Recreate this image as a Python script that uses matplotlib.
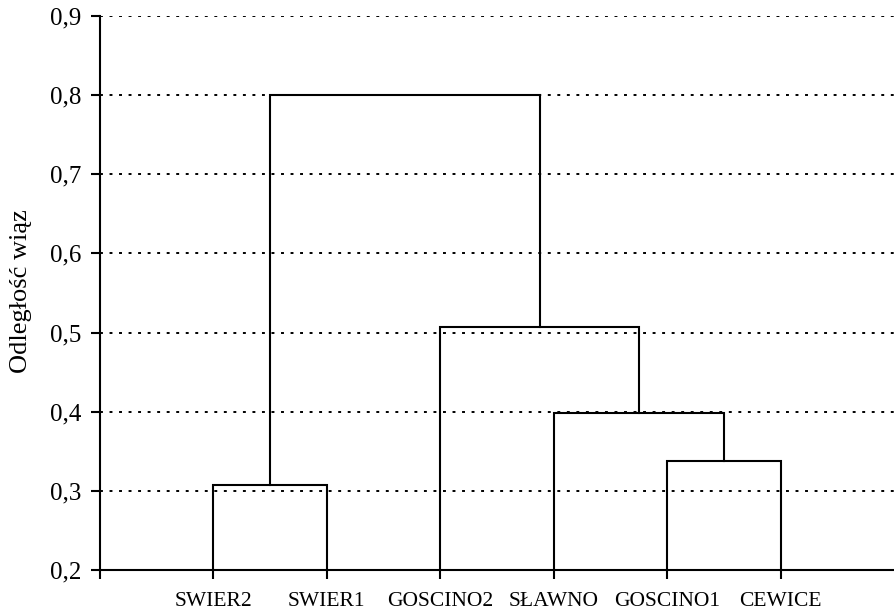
import matplotlib
matplotlib.use("Agg")
import matplotlib.pyplot as plt

plt.rcParams["font.family"] = ["Liberation Serif", "DejaVu Serif"]

# leaves in drawing order
leaves = ["SWIER2", "SWIER1", "GOSCINO2", "SŁAWNO", "GOSCINO1", "CEWICE"]
# merges: (left cluster id, right cluster id, linkage distance); new ids start at len(leaves)
merge_left = [0, 4, 3, 2, 6]
merge_right = [1, 5, 7, 8, 9]
merge_height = [0.307, 0.338, 0.398, 0.507, 0.800]

y_ticks = [0.2, 0.3, 0.4, 0.5, 0.6, 0.7, 0.8, 0.9]
y_tick_labels = ["0,2", "0,3", "0,4", "0,5", "0,6", "0,7", "0,8", "0,9"]
y_label = "Odległość wiąz"

fig = plt.figure(figsize=(8.94, 6.10), dpi=100)
ax = fig.add_axes([100 / 894, 40 / 610, 794 / 894, 554 / 610])

base = y_ticks[0]
xpos = {i: i + 1 for i in range(len(leaves))}
ypos = {i: base for i in range(len(leaves))}

for k, (a, b, h) in enumerate(zip(merge_left, merge_right, merge_height)):
    xa, xb = xpos[a], xpos[b]
    ax.plot([xa, xa, xb, xb], [ypos[a], h, h, ypos[b]], color="black",
            linewidth=1.5, solid_joinstyle="miter", zorder=3)
    new_id = len(leaves) + k
    xpos[new_id] = (xa + xb) / 2
    ypos[new_id] = h

for y in y_ticks[1:]:
    ax.axhline(y, color="black", linewidth=1.4, linestyle=(0, (1.5, 3.4)), zorder=1)

ax.set_xlim(0, len(leaves) + 1)
ax.set_ylim(y_ticks[0], y_ticks[-1])
ax.set_yticks(y_ticks)
ax.set_yticklabels(y_tick_labels, fontsize=18)
ax.set_xticks(range(0, len(leaves) + 1))
ax.set_xticklabels([""] + leaves, fontsize=15.5)

ax.spines["top"].set_visible(False)
ax.spines["right"].set_visible(False)
ax.spines["left"].set_linewidth(1.5)
ax.spines["bottom"].set_linewidth(1.5)
ax.tick_params(axis="both", direction="out", length=6.5, width=1.5, color="black")
ax.tick_params(axis="y", pad=7)
ax.tick_params(axis="x", pad=9)

ax.set_ylabel(y_label, fontsize=19)
ax.yaxis.set_label_coords(-0.086, 0.504)

fig.savefig("out.png", dpi=100)
